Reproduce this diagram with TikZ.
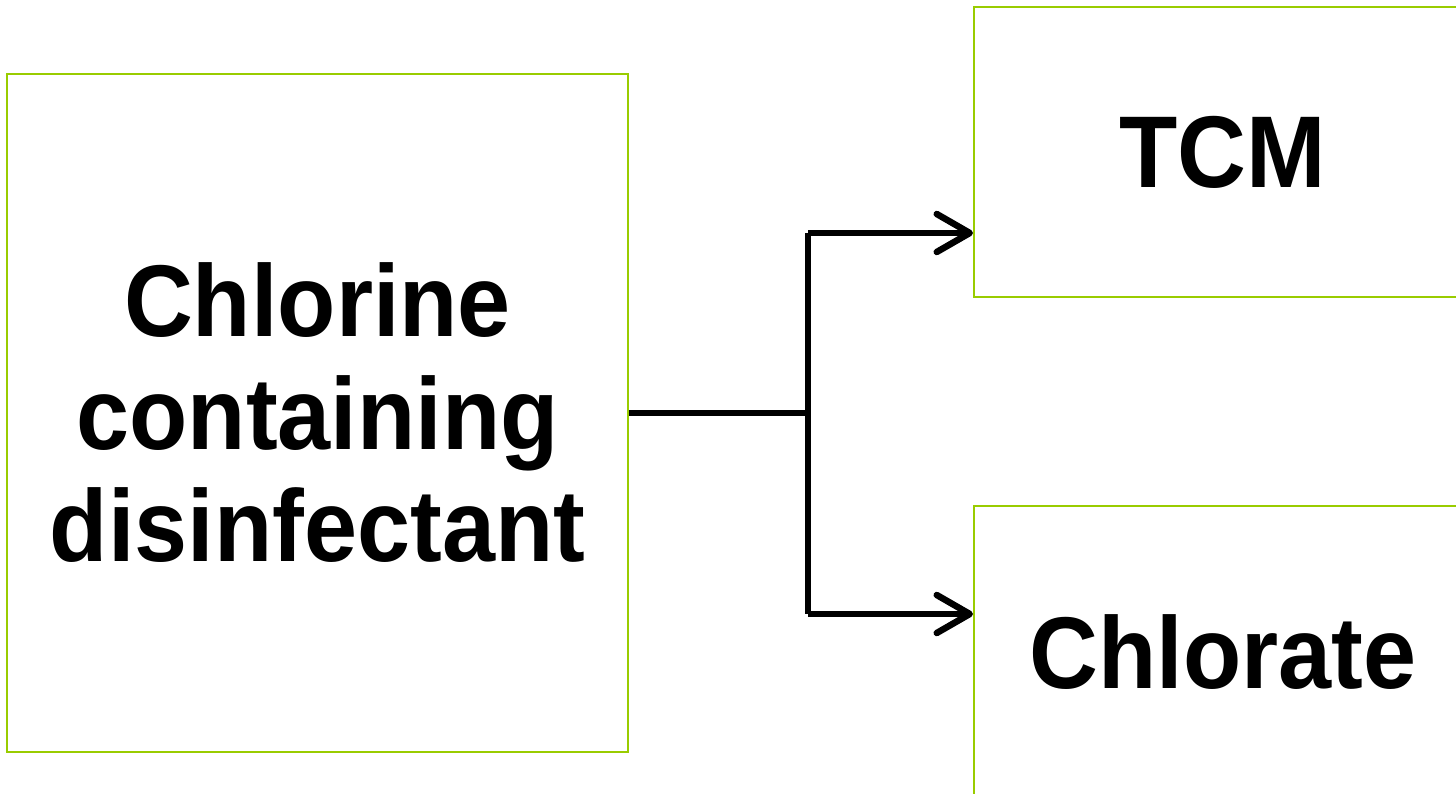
\documentclass[tikz,border=0pt]{standalone}
\usepackage{fontspec}
\newfontfamily\labelfont{Liberation Sans}[FakeStretch=0.935]
\usetikzlibrary{arrows.meta}
\definecolor{boxgreen}{HTML}{99CC00}
\tikzset{
  box/.style={draw=boxgreen, line width=2pt, inner sep=0pt, align=center,
    font=\labelfont\bfseries\fontsize{102}{112.5}\selectfont},
  conn/.style={line width=6.5pt, black},
  arrowconn/.style={conn, -{Straight Barb[length=33pt, width=38pt, round]}}
}
\begin{document}
\begin{tikzpicture}[x=1pt, y=-1pt]
  \clip (0,0) rectangle (1456,794);
  \fill[white] (0,0) rectangle (1456,794);

  % source and product boxes
  \node[box, minimum width=621pt, minimum height=678pt] (src) at (317.5,413)
    {Chlorine\\containing\\disinfectant};
  \node[box, minimum width=498pt, minimum height=290pt] (tcm) at (1223,152) {TCM};
  \node[box, minimum width=498pt, minimum height=292pt] (chl) at (1223,652) {Chlorate};

  % branching connector
  \coordinate (mid) at (808,413);
  \coordinate (top) at (808,233);
  \coordinate (bot) at (808,614);
  \draw[conn] (src.east) -- (mid);
  \draw[conn] (top) -- (bot);
  \draw[arrowconn] (top) -- (top -| tcm.west);
  \draw[arrowconn] (bot) -- (bot -| chl.west);
\end{tikzpicture}
\end{document}
